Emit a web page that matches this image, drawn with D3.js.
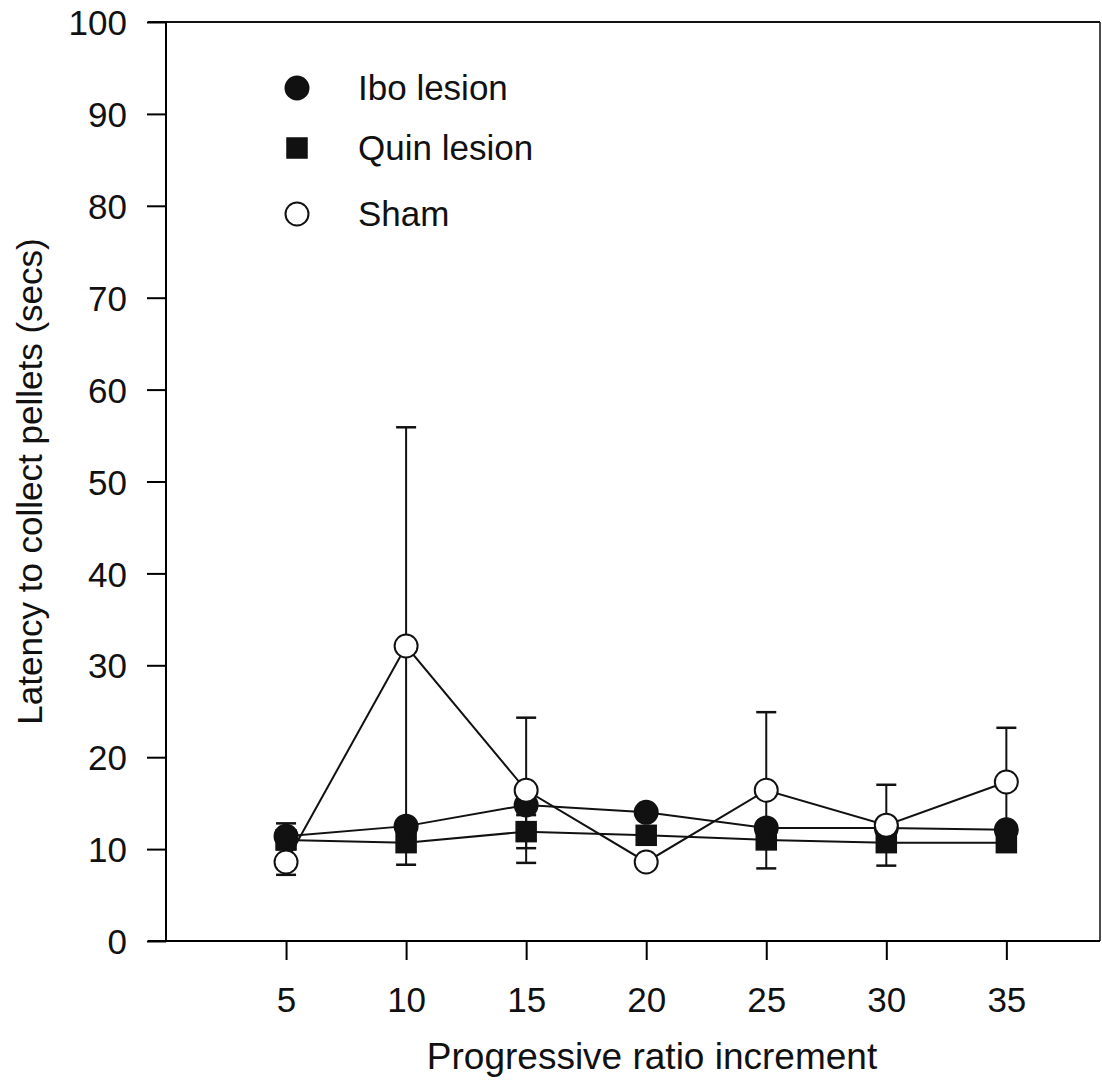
<!DOCTYPE html>
<html>
<head>
<meta charset="utf-8">
<script src="https://cdn.jsdelivr.net/npm/d3@7/dist/d3.min.js"></script>
<style>
  body { margin: 0; background: #fff; }
  text { font-family: Arial, "Liberation Sans", sans-serif; fill: #111; }
</style>
</head>
<body>
<script>
// values
var increments = [5, 10, 15, 20, 25, 30, 35];
var iboMean  = [11.4, 12.5, 14.8, 14.0, 12.3, 12.3, 12.1];
var iboErr   = [1.4, 0.6, 0.8, 0.5, 0.6, 0.6, 0.5];
var quinMean = [11.0, 10.7, 11.9, 11.5, 11.0, 10.7, 10.7];
var quinErr  = [0.6, 0.5, 1.8, 0.6, 0.5, 0.5, 0.4];
var shamMean = [8.6, 32.1, 16.4, 8.6, 16.4, 12.6, 17.3];
var shamErr  = [1.4, 23.8, 7.9, 0.3, 8.5, 4.4, 5.9];
var yTicks = [0, 10, 20, 30, 40, 50, 60, 70, 80, 90, 100];

var W = 1102, H = 1084;
var plotL = 166, plotT = 22, plotB = 941, plotR = 1100;

var svg = d3.select("body").append("svg")
  .attr("width", W).attr("height", H);

var x = d3.scaleLinear().domain([0, 38.9]).range([plotL, plotR]);
var y = d3.scaleLinear().domain([0, 100]).range([plotB, plotT]);

// frame
svg.append("line").attr("x1", 148).attr("x2", plotR).attr("y1", plotT).attr("y2", plotT)
  .attr("stroke", "#111").attr("stroke-width", 2);
svg.append("line").attr("x1", plotR).attr("x2", plotR).attr("y1", plotT).attr("y2", plotB)
  .attr("stroke", "#111").attr("stroke-width", 1.5);

// y axis
var yAxis = svg.append("g").attr("transform", "translate(" + plotL + ",0)")
  .call(d3.axisLeft(y).tickValues(yTicks).tickSize(19).tickPadding(20));
yAxis.select(".domain").attr("stroke-width", 2).attr("d", "M0," + plotT + "V" + plotB);
yAxis.selectAll(".tick line").attr("stroke-width", 2);
yAxis.selectAll("text").style("font-size", "35px").attr("dy", "0.36em");

// x axis
var xAxis = svg.append("g").attr("transform", "translate(0," + plotB + ")")
  .call(d3.axisBottom(x).tickValues(increments).tickSize(19).tickPadding(27));
xAxis.select(".domain").attr("stroke-width", 2).attr("d", "M148,0H" + plotR);
xAxis.selectAll(".tick line").attr("stroke-width", 2);
xAxis.selectAll("text").style("font-size", "35px");

// axis titles
svg.append("text")
  .attr("transform", "translate(42," + ((plotT + plotB) / 2) + ") rotate(-90)")
  .attr("text-anchor", "middle")
  .style("font-size", "35px")
  .text("Latency to collect pellets (secs)");
svg.append("text")
  .attr("x", 652).attr("y", 1069)
  .attr("text-anchor", "middle")
  .style("font-size", "37px")
  .text("Progressive ratio increment");

var series = [
  { name: "Quin lesion", mean: quinMean, err: quinErr, shape: "square", fill: "#111" },
  { name: "Ibo lesion", mean: iboMean, err: iboErr, shape: "circle", fill: "#111" },
  { name: "Sham", mean: shamMean, err: shamErr, shape: "circle", fill: "#fff" }
];

var line = d3.line()
  .x(function(d) { return x(d.x); })
  .y(function(d) { return y(d.v); });

function pts(s) {
  return increments.map(function(v, i) { return { x: v, v: s.mean[i], e: s.err[i] }; });
}

// error bars first
series.forEach(function(s) {
  var g = svg.append("g");
  var p = pts(s);
  g.selectAll("line.stem").data(p).enter().append("line")
    .attr("x1", function(d) { return x(d.x); })
    .attr("x2", function(d) { return x(d.x); })
    .attr("y1", function(d) { return y(d.v - d.e); })
    .attr("y2", function(d) { return y(d.v + d.e); })
    .attr("stroke", "#111").attr("stroke-width", 2);
  [1, -1].forEach(function(sign) {
    g.selectAll("line.cap" + sign).data(p).enter().append("line")
      .attr("x1", function(d) { return x(d.x) - 10; })
      .attr("x2", function(d) { return x(d.x) + 10; })
      .attr("y1", function(d) { return y(d.v + sign * d.e); })
      .attr("y2", function(d) { return y(d.v + sign * d.e); })
      .attr("stroke", "#111").attr("stroke-width", 2.5);
  });
});

// lines and markers
series.forEach(function(s) {
  var p = pts(s);
  svg.append("path").datum(p).attr("d", line)
    .attr("fill", "none").attr("stroke", "#111").attr("stroke-width", 2);
});

function marker(sel, s) {
  if (s.shape === "square") {
    sel.append("rect").attr("x", -10).attr("y", -10).attr("width", 20).attr("height", 20)
      .attr("fill", s.fill).attr("stroke", "#111").attr("stroke-width", 1.5);
  } else {
    sel.append("circle").attr("r", 11.5)
      .attr("fill", s.fill).attr("stroke", "#111").attr("stroke-width", 2);
  }
}

series.forEach(function(s) {
  svg.append("g").selectAll("g").data(pts(s)).enter().append("g")
    .attr("transform", function(d) { return "translate(" + x(d.x) + "," + y(d.v) + ")"; })
    .each(function() { marker(d3.select(this), s); });
});

// legend
var legendOrder = [series[1], series[0], series[2]];
var legendY = [88, 148, 214];
legendOrder.forEach(function(s, i) {
  var g = svg.append("g").attr("transform", "translate(297," + legendY[i] + ")");
  marker(g, s);
  g.append("text").attr("x", 61).attr("dy", "0.35em")
    .style("font-size", "35px").text(s.name);
});
</script>
</body>
</html>
